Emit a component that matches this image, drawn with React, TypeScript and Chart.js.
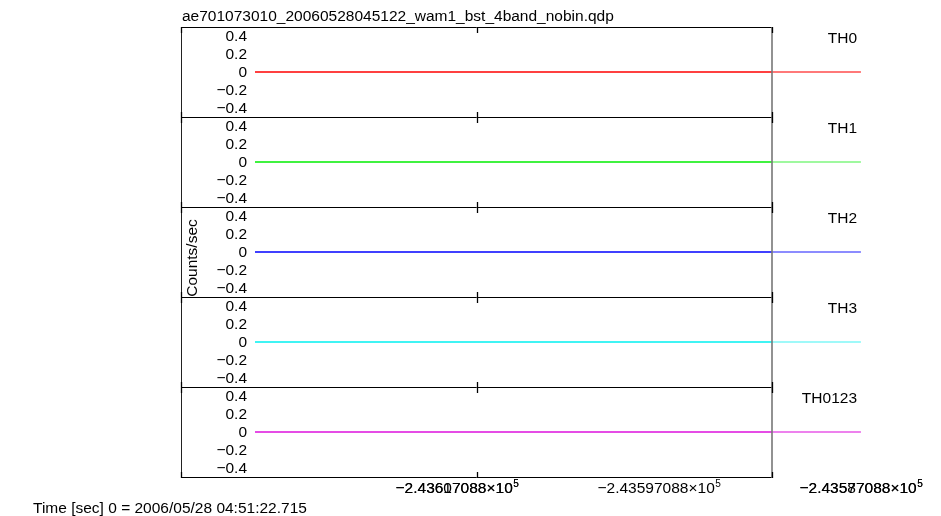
import React, { useEffect, useRef } from "react";
import { Chart, registerables } from "chart.js";

Chart.register(...registerables);

const TITLE = "ae701073010_20060528045122_wam1_bst_4band_nobin.qdp";
const X_LABEL = "Time [sec] 0 = 2006/05/28 04:51:22.715";
const Y_LABEL = "Counts/sec";

const panelNames = ["TH0", "TH1", "TH2", "TH3", "TH0123"];
const panelColors = ["#ff0000", "#00ee00", "#0000ff", "#00f0f0", "#dd10dd"];
const panelColorsFaded = ["rgba(255,0,0,0.7)", "rgba(0,238,0,0.5)", "rgba(0,0,255,0.6)", "rgba(0,240,240,0.5)", "rgba(221,16,221,0.7)"];

const timeBins = [-243617.088, -243587.088];
const rateTH0 = [0, 0];
const rateTH1 = [0, 0];
const rateTH2 = [0, 0];
const rateTH3 = [0, 0];
const rateTH0123 = [0, 0];
const panelRates = [rateTH0, rateTH1, rateTH2, rateTH3, rateTH0123];

const yMin = -0.5;
const yMax = 0.5;
const yTickValues = [0.4, 0.2, 0, -0.2, -0.4];
const yTickLabels = ["0.4", "0.2", "0", "\u22120.2", "\u22120.4"];

const X_MIN = -243620.75;
const X_MAX = -243591.49;
const xFrameTicks = [X_MIN, -243606.12, X_MAX];
const xTickValues = [-243607.088, -243597.088, -243587.088];
const xTickLabels = ["\u22122.43607088", "\u22122.43597088", "\u22122.43587088"];
const xTickOverprint = ["\u22122.43617088", "", "\u22122.43577088"];
const xTickExponent = "5";

const FONT = '"Liberation Sans", Arial, Helvetica, sans-serif';
const FS = 15.5;

const yIds = panelNames.map((_, i) => "y" + i);

const framePlugin = {
  id: "qdpFrame",
  afterDatasetsDraw(chart: any) {
    const ctx = chart.ctx;
    const area = chart.chartArea;
    const xs = chart.scales.x;
    ctx.save();
    // horizontal boundaries
    const bounds: number[] = [];
    yIds.forEach((id) => {
      const s = chart.scales[id];
      bounds.push(s.top, s.bottom);
    });
    const uniq = Array.from(new Set(bounds.map((b) => Math.round(b)))).sort((a, b) => a - b);
    ctx.strokeStyle = "#000";
    ctx.lineWidth = 1;
    uniq.forEach((b) => {
      ctx.beginPath();
      ctx.moveTo(area.left, b + 0.5);
      ctx.lineTo(area.right, b + 0.5);
      ctx.stroke();
    });
    // left frame
    ctx.strokeStyle = "#222";
    ctx.beginPath();
    ctx.moveTo(area.left + 0.5, area.top);
    ctx.lineTo(area.left + 0.5, area.bottom + 1);
    ctx.stroke();
    // right frame
    ctx.strokeStyle = "#777";
    ctx.lineWidth = 1.6;
    ctx.beginPath();
    ctx.moveTo(area.right, area.top);
    ctx.lineTo(area.right, area.bottom + 1);
    ctx.stroke();
    // tick marks
    ctx.strokeStyle = "#000";
    ctx.lineWidth = 1.3;
    const minB = uniq[0];
    const maxB = uniq[uniq.length - 1];
    xFrameTicks.forEach((v) => {
      const px = Math.round(xs.getPixelForValue(v)) + 0.5;
      uniq.forEach((b) => {
        const up = b === minB ? 0 : 5;
        const down = b === maxB ? 0 : 5;
        ctx.beginPath();
        ctx.moveTo(px, b - up);
        ctx.lineTo(px, b + down + 1);
        ctx.stroke();
      });
    });
    ctx.restore();
  },
  afterDraw(chart: any) {
    const ctx = chart.ctx;
    const area = chart.chartArea;
    const xs = chart.scales.x;
    ctx.save();
    ctx.fillStyle = "#000";
    ctx.font = `${FS}px ${FONT}`;
    // title
    ctx.textAlign = "left";
    ctx.textBaseline = "alphabetic";
    ctx.fillText(TITLE, area.left + 1, 21);
    // y tick labels & panel names
    yIds.forEach((id, i) => {
      const s = chart.scales[id];
      ctx.textAlign = "right";
      yTickValues.forEach((v, k) => {
        const py = s.getPixelForValue(v);
        ctx.fillText(yTickLabels[k], 247, py + 5);
      });
      ctx.fillText(panelNames[i], 857, s.top + 16);
    });
    // x tick labels
    const drawLabel = (txt: string, cx: number, base: number) => {
      const main = txt + "\u00d710";
      ctx.font = `${FS}px ${FONT}`;
      const w1 = ctx.measureText(main).width;
      ctx.font = `${FS * 0.65}px ${FONT}`;
      const w2 = ctx.measureText(xTickExponent).width;
      const start = cx - (w1 + w2) / 2;
      ctx.textAlign = "left";
      ctx.font = `${FS}px ${FONT}`;
      ctx.fillText(main, start, base);
      ctx.font = `${FS * 0.65}px ${FONT}`;
      ctx.fillText(xTickExponent, start + w1 + 0.5, base - 6);
      ctx.font = `${FS}px ${FONT}`;
    };
    xTickValues.forEach((v, k) => {
      const px = xs.getPixelForValue(v);
      drawLabel(xTickLabels[k], px, 493);
      if (xTickOverprint[k]) drawLabel(xTickOverprint[k], px, 493);
    });
    // x label
    ctx.textAlign = "left";
    ctx.fillText(X_LABEL, 33, 513);
    // y label
    ctx.save();
    ctx.translate(197, (area.top + area.bottom) / 2 + 6);
    ctx.rotate(-Math.PI / 2);
    ctx.textAlign = "center";
    ctx.textBaseline = "alphabetic";
    ctx.fillText(Y_LABEL, 0, 0);
    ctx.restore();
    ctx.restore();
  },
};

export default function App() {
  const ref = useRef<HTMLCanvasElement | null>(null);
  useEffect(() => {
    if (!ref.current) return;
    const scales: any = {
      x: { type: "linear", min: X_MIN, max: X_MAX, display: false },
    };
    // left stacked axes are placed in reverse definition order: define bottom panel first
    for (let i = yIds.length - 1; i >= 0; i--) {
      scales[yIds[i]] = {
        type: "linear",
        position: "left",
        stack: "panels",
        stackWeight: 1,
        min: yMin,
        max: yMax,
        display: true,
        ticks: { display: false },
        grid: { display: false, drawTicks: false },
        border: { display: false },
      };
    }
    const datasets = panelNames.map((name, i) => ({
      label: name,
      data: timeBins.map((t, k) => ({ x: t, y: panelRates[i][k] })),
      xAxisID: "x",
      yAxisID: yIds[i],
      borderWidth: 1.5,
      pointRadius: 0,
      clip: false,
      borderColor: (c: any) => {
        const chart = c.chart;
        const a = chart.chartArea;
        if (!a) return panelColors[i];
        const g = chart.ctx.createLinearGradient(0, 0, chart.width, 0);
        const f = Math.min(1, Math.max(0, a.right / chart.width));
        g.addColorStop(0, panelColors[i]);
        g.addColorStop(f, panelColors[i]);
        g.addColorStop(Math.min(1, f + 0.0001), panelColorsFaded[i]);
        g.addColorStop(1, panelColorsFaded[i]);
        return g;
      },
    }));
    const chart = new Chart(ref.current, {
      type: "line",
      data: { datasets } as any,
      options: {
        responsive: false,
        animation: false,
        devicePixelRatio: 1,
        layout: { padding: { left: 181, right: 169, top: 27, bottom: 39 } },
        plugins: { legend: { display: false }, tooltip: { enabled: false } },
        scales,
      } as any,
      plugins: [framePlugin],
    });
    return () => chart.destroy();
  }, []);
  return (
    <div style={{ position: "absolute", left: 0, top: 0, width: 941, height: 516, background: "#fff" }}>
      <canvas ref={ref} width={941} height={516} style={{ width: 941, height: 516 }} />
    </div>
  );
}
